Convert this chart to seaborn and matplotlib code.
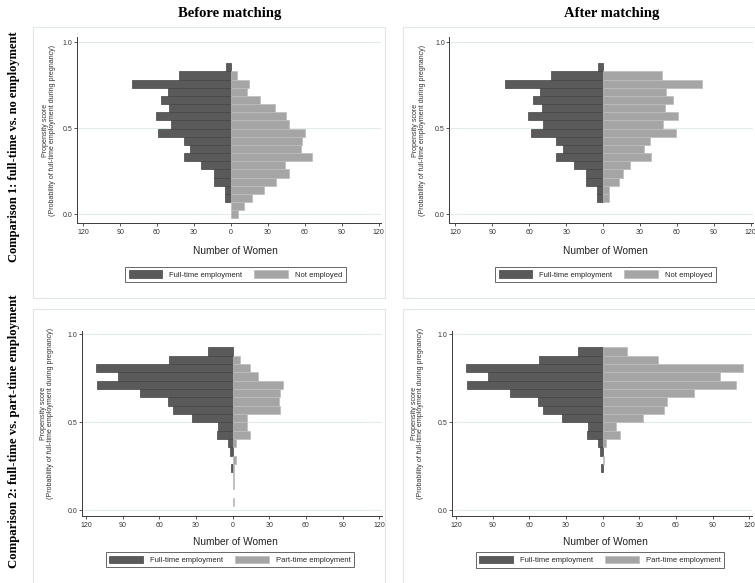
"""Propensity score pyramids, before and after matching."""
import matplotlib
matplotlib.use("Agg")
import matplotlib.pyplot as plt
import seaborn as sns
from matplotlib.patches import Patch, Rectangle

# bin centres of the propensity score histogram
bin_centers = [0.0, 0.0475, 0.095, 0.1425, 0.19, 0.2375, 0.285, 0.3325, 0.38, 0.4275,
               0.475, 0.5225, 0.57, 0.6175, 0.665, 0.7125, 0.76, 0.8075, 0.855, 0.9025]

# comparison 1: full-time vs. no employment (counts per bin, bottom to top)
fulltime_c1 = [0, 0, 5, 5, 14, 14, 24, 38, 33, 38, 59, 49, 61, 50, 57, 51, 80, 42, 4, 0]
notemp_before = [6, 11, 17, 27, 37, 47, 44, 66, 57, 58, 60, 47, 45, 36, 24, 13, 15, 5, 0, 0]
notemp_after = [0, 0, 5, 5, 13, 16, 22, 39, 33, 38, 59, 49, 61, 50, 57, 51, 80, 48, 0, 0]

# comparison 2: full-time vs. part-time employment
fulltime_c2 = [0, 0, 0, 0, 0, 1, 0, 2, 4, 13, 12, 33, 49, 53, 76, 111, 94, 112, 52, 20]
parttime_before = [0, 1, 0, 1, 1, 1, 3, 0, 3, 14, 12, 12, 39, 38, 39, 41, 21, 14, 6, 0]
parttime_after = [0, 0, 0, 0, 0, 0, 1, 0, 3, 14, 11, 33, 50, 53, 75, 109, 96, 115, 45, 20]

x_ticks = [-120, -90, -60, -30, 0, 30, 60, 90, 120]
y_ticks = [0.0, 0.5, 1.0]

DARK, DARK_EDGE = '#5a5a5a', '#444444'
LIGHT, LIGHT_EDGE = '#a5a5a5', '#bcbcbc'
GRID = '#e2eaec'

sns.set_theme(style="white")
plt.rcParams['font.family'] = ['Liberation Sans', 'DejaVu Sans']

W, H = 755, 583
fig = plt.figure(figsize=(W / 100, H / 100), dpi=100)


def fx(x):
    return x / W


def fy(y):
    return 1 - y / H


def bars(ax, values, sign, color, edge):
    pos = [c for c, v in zip(bin_centers, values) if v > 0]
    val = [sign * v for v in values if v > 0]
    sns.barplot(x=val, y=pos, orient='y', native_scale=True, width=1,
                color=color, saturation=1, edgecolor=edge, linewidth=0.5,
                errorbar=None, ax=ax)


def pyramid(box, left, right, right_name, xlim, ylim, xlab, ylab, leg):
    x0, y0, x1, y1 = box
    ax = fig.add_axes([fx(x0), fy(y1), (x1 - x0) / W, (y1 - y0) / H])
    for y in y_ticks:
        ax.axhline(y, color=GRID, lw=0.8, zorder=0)
    bars(ax, left, -1, DARK, DARK_EDGE)
    bars(ax, right, 1, LIGHT, LIGHT_EDGE)
    ax.set_xlim(*xlim)
    ax.set_ylim(*ylim)
    ax.set_xticks(x_ticks)
    ax.set_xticklabels([str(abs(t)) for t in x_ticks])
    ax.set_yticks(y_ticks)
    ax.set_yticklabels(['%.1f' % t for t in y_ticks])
    sns.despine(ax=ax)
    for s in ('left', 'bottom'):
        ax.spines[s].set_color('#3a3a3a')
        ax.spines[s].set_linewidth(0.7)
    ax.tick_params(bottom=True, left=True, direction='out', length=2.2,
                   width=0.6, color='#3a3a3a', labelsize=5.0,
                   labelcolor='#333333')
    ax.tick_params(axis='x', pad=2.6)
    ax.tick_params(axis='y', pad=1)

    ax.set_xlabel('Number of Women', fontsize=7.3, color='#222222')
    ax.xaxis.set_label_coords((xlab[0] - x0) / (x1 - x0),
                              (y1 - xlab[1]) / (y1 - y0))
    ax.xaxis.label.set_va('center')
    ax.set_ylabel('Propensity score\n(Probability of full-time employment during pregnancy)',
                  fontsize=5.1, color='#333333', linespacing=1.0)
    ax.yaxis.set_label_coords((ylab[0] - x0) / (x1 - x0),
                              (y1 - ylab[1]) / (y1 - y0))
    ax.yaxis.label.set_va('center')

    handles = [Patch(facecolor=DARK, edgecolor=DARK_EDGE, lw=0.5),
               Patch(facecolor=LIGHT, edgecolor=LIGHT_EDGE, lw=0.5)]
    lg = ax.legend(handles, ['Full-time employment', right_name], ncol=2,
                   loc='center', bbox_to_anchor=(fx(leg[0]), fy(leg[1])),
                   bbox_transform=fig.transFigure, fontsize=5.5,
                   frameon=True, fancybox=False, edgecolor='#222222',
                   handlelength=4.4, handleheight=1.1, handletextpad=0.9,
                   columnspacing=1.6, borderpad=0.45, borderaxespad=0)
    lg.get_frame().set_linewidth(0.6)
    return ax


# faint outlines of the four graph regions
for rx, ry, rw, rh in [(33, 27, 352, 271), (403, 27, 360, 271),
                       (33, 309, 352, 280), (403, 309, 360, 280)]:
    fig.add_artist(Rectangle((fx(rx), fy(ry + rh)), rw / W, rh / H,
                             transform=fig.transFigure, fill=False,
                             ec='#dfe7ea', lw=0.8))

pyramid((77, 37.3, 381, 222.7), fulltime_c1, notemp_before, 'Not employed',
        (-125, 122), (-0.049, 1.03), (235, 250.7), (48.5, 130), (235.5, 274.5))
pyramid((449.3, 37.3, 753.3, 222.7), fulltime_c1, notemp_after, 'Not employed',
        (-125, 122), (-0.049, 1.03), (605, 250.7), (419.5, 130), (605.5, 274.5))
pyramid((81.7, 330.7, 381.7, 515.7), fulltime_c2, parttime_before, 'Part-time employment',
        (-123.5, 122), (-0.032, 1.02), (235, 542), (47.5, 413), (230, 559.7))
pyramid((451.7, 330.7, 751.7, 515.7), fulltime_c2, parttime_after, 'Part-time employment',
        (-123.5, 122), (-0.032, 1.02), (605, 542), (417.5, 413), (600, 560))

serif = dict(family=['Liberation Serif', 'DejaVu Serif'], fontweight='bold',
             color='black')
fig.text(fx(230), fy(13), 'Before matching', ha='center', va='center',
         fontsize=10.5, **serif)
fig.text(fx(612), fy(13), 'After matching', ha='center', va='center',
         fontsize=10.5, **serif)
fig.text(fx(14), fy(147), 'Comparison 1: full-time vs. no employment',
         rotation=90, ha='center', va='center', fontsize=9.0, **serif)
fig.text(fx(14), fy(431), 'Comparison 2: full-time vs. part-time employment',
         rotation=90, ha='center', va='center', fontsize=9.2, **serif)

fig.savefig('out.png', dpi=100)
